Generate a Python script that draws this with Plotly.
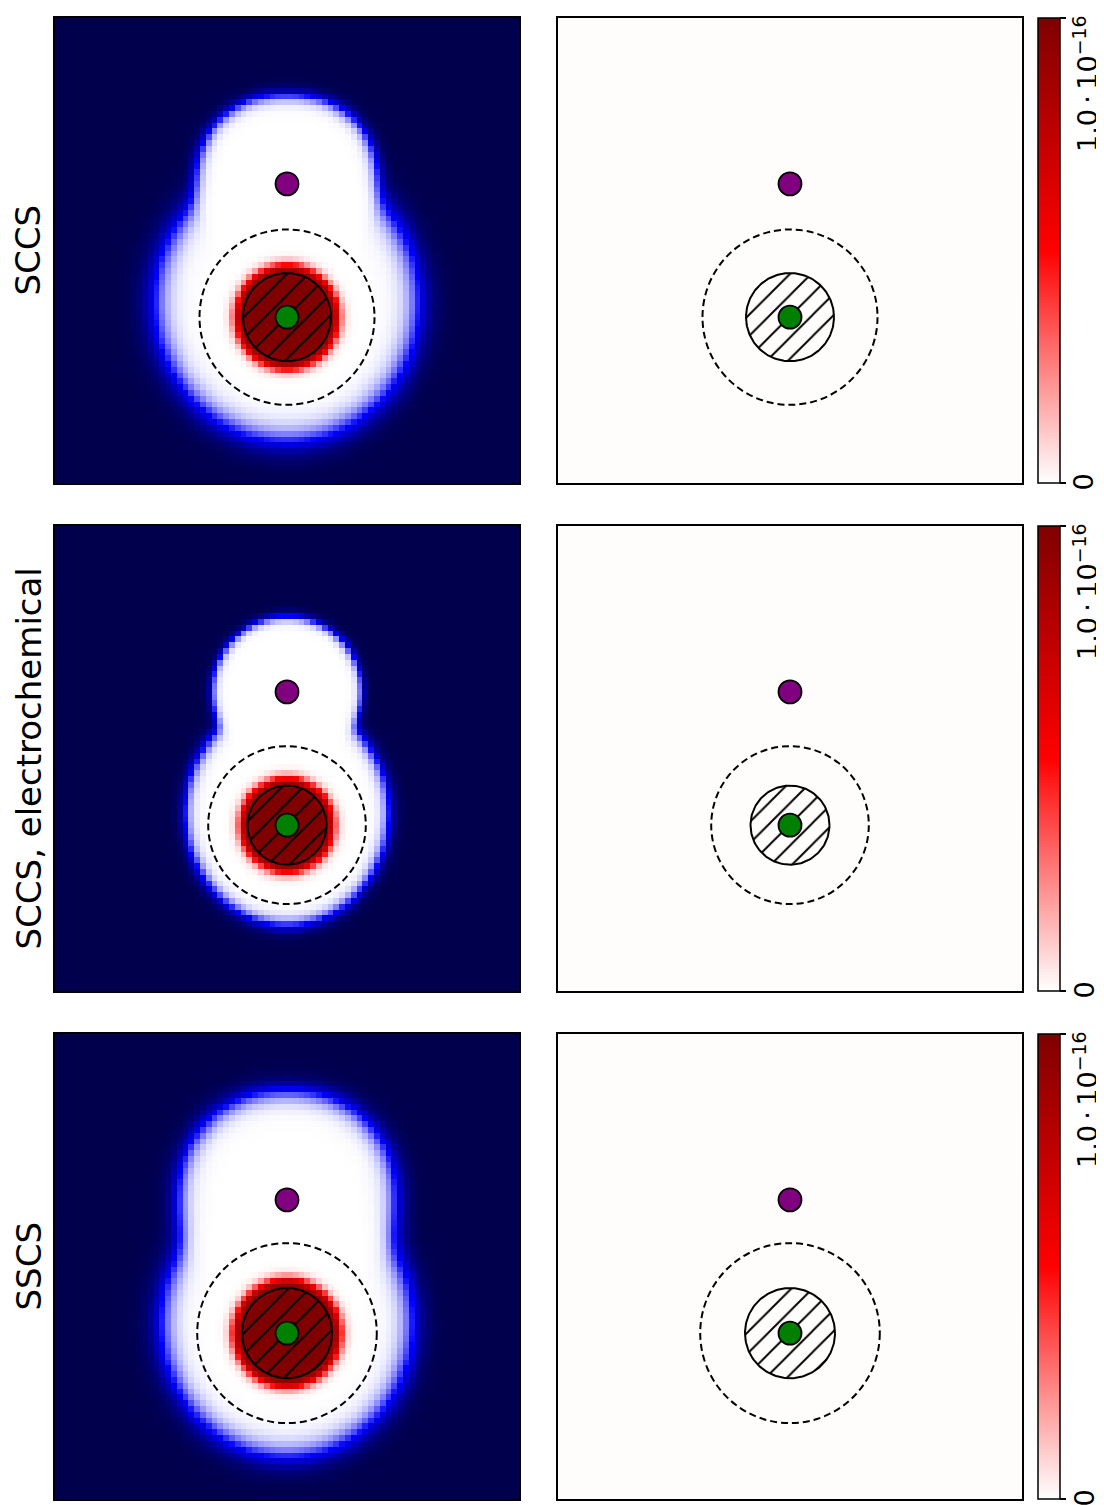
import numpy as np
import plotly.graph_objects as go

# ---------------- data ----------------
ROW_LABELS = ["SCCS", "SCCS, electrochemical", "SSCS"]
BOX = 10.0            # side of each map (Å)
NGRID = 80            # cells per side
GREEN_XY = (5.0, 3.567)
PURPLE_XY = (5.0, 6.433)

HATCH_R = [0.948, 0.851, 0.970]      # hatched (core) sphere radius
DASH_R = [1.886, 1.698, 1.935]       # dashed sphere radius
RED_R = [1.12, 1.013, 1.164]         # radius of red region (left maps)
RED_W = [0.06, 0.06, 0.06]
LOW_OFF = [0.323, 0.259, 0.216]      # lower lobe centre shift above green atom
LOW_RX = [2.86, 2.20, 2.72]
LOW_RY = [3.02, 2.43, 2.90]
LOW_P = [2.0, 2.0, 2.0]
LOW_W = [0.17, 0.085, 0.16]
UP_RX = [1.96, 1.62, 2.36]
UP_RY = [1.92, 1.63, 2.36]
UP_P = [2.25, 2.0, 2.15]
UP_W = [0.08, 0.055, 0.13]

RIGHT_LEVEL = [0.5e-18, 0.5e-18, 0.5e-18]   # right maps: nearly zero everywhere
CB_MAX = 1.0e-16
CB_TICKS = [0.0, 1.0e-16]
CB_TICKTEXT = ["0", "1.0\u2009·\u200910<sup>−16</sup>"]

SEISMIC = [[0.0, "rgb(0,0,76)"], [0.25, "rgb(0,0,255)"], [0.5, "rgb(255,255,255)"],
           [0.75, "rgb(255,0,0)"], [1.0, "rgb(128,0,0)"]]
REDS = [[0.0, "rgb(255,255,255)"], [0.5, "rgb(255,0,0)"], [1.0, "rgb(128,0,0)"]]

# ---------------- layout geometry (reference page pixels) ----------------
PAGE_W, PAGE_H = 1104, 1505
OFF = 8                                   # browser body margin
PLOT_L, PLOT_R, PLOT_T, PLOT_B = 55, 1022, 18, 1499
W, H = PAGE_W - OFF, PAGE_H - OFF
ML, MT = PLOT_L - OFF, PLOT_T - OFF
MR, MB = W - (PLOT_R - OFF), H - (PLOT_B - OFF)
PW, PH = PLOT_R - PLOT_L, PLOT_B - PLOT_T
XDOM = [[0, 464 / PW], [503 / PW, 1.0]]
YDOM = [[1016 / PH, 1.0], [508 / PH, 973 / PH], [0.0, 465 / PH]]


def px_x(xpix):
    return (xpix - PLOT_L) / PW


def sig(x):
    return 1.0 / (1.0 + np.exp(-x))


xs = (np.arange(NGRID) + 0.5) * BOX / NGRID
X, Y = np.meshgrid(xs, xs)


def left_field(i):
    gx, gy = GREEN_XY
    px, py = PURPLE_XY
    dx = np.abs(X - gx) / LOW_RX[i]
    dy = np.abs(Y - (gy + LOW_OFF[i])) / LOW_RY[i]
    rho = (dx ** LOW_P[i] + dy ** LOW_P[i]) ** (1 / LOW_P[i])
    a = (rho - 1) * 0.5 * (LOW_RX[i] + LOW_RY[i])
    s1 = sig(-a / LOW_W[i])
    ux = np.abs(X - px) / UP_RX[i]
    uy = np.abs(Y - py) / UP_RY[i]
    rho2 = (ux ** UP_P[i] + uy ** UP_P[i]) ** (1 / UP_P[i])
    b = (rho2 - 1) * 0.5 * (UP_RX[i] + UP_RY[i])
    s2 = sig(-b / UP_W[i])
    cav = 1 - (1 - s1) * (1 - s2)
    red = sig((RED_R[i] - np.hypot(X - gx, Y - gy)) / RED_W[i])
    return 0.5 * cav + 0.5 * red


def ax_name(n, letter):
    return letter if n == 1 else f"{letter}{n}"


fig = go.Figure()
shapes, annotations = [], []
layout_axes = {}
theta = np.linspace(0, 2 * np.pi, 181)

for i in range(3):
    for j in range(2):
        n = 2 * i + j + 1
        xa, ya = ax_name(n, "x"), ax_name(n, "y")
        if j == 0:
            fig.add_trace(go.Heatmap(x=xs, y=xs, z=left_field(i), colorscale=SEISMIC,
                                     zmin=0, zmax=1, showscale=False, hoverinfo="skip",
                                     xaxis=xa, yaxis=ya))
        else:
            z = np.full((NGRID, NGRID), RIGHT_LEVEL[i])
            fig.add_trace(go.Heatmap(
                x=xs, y=xs, z=z, colorscale=REDS, zmin=0, zmax=CB_MAX, hoverinfo="skip",
                xaxis=xa, yaxis=ya,
                colorbar=dict(x=px_x(1038), xanchor="left", xpad=0,
                              y=sum(YDOM[i]) / 2, yanchor="middle", ypad=0,
                              len=YDOM[i][1] - YDOM[i][0], lenmode="fraction",
                              thickness=22, thicknessmode="pixels",
                              outlinewidth=1.5, outlinecolor="black",
                              tickvals=CB_TICKS, ticks="outside", ticklen=6,
                              tickwidth=1.5, tickcolor="black", showticklabels=False)))
            for tv, tt in zip(CB_TICKS, CB_TICKTEXT):
                frac = tv / CB_MAX
                annotations.append(dict(
                    text=tt, textangle=-90, xref="paper", yref=f"{ya} domain",
                    x=px_x(1067), xanchor="left",
                    y=frac, yanchor="top" if frac > 0.5 else "middle",
                    yshift=4 if frac > 0.5 else 1, showarrow=False, borderpad=0,
                    font=dict(family="DejaVu Sans", size=27, color="black")))
        gx, gy = GREEN_XY
        R = HATCH_R[i]
        fig.add_trace(go.Scatter(
            x=gx + R * np.cos(theta), y=gy + R * np.sin(theta), mode="lines",
            fill="toself", fillcolor="rgba(0,0,0,0)",
            fillpattern=dict(shape="/", fgcolor="black", bgcolor="rgba(0,0,0,0)",
                             fgopacity=1, size=15, solidity=0.13),
            line=dict(color="black", width=2), hoverinfo="skip", showlegend=False,
            xaxis=xa, yaxis=ya))
        fig.add_trace(go.Scatter(
            x=[PURPLE_XY[0], GREEN_XY[0]], y=[PURPLE_XY[1], GREEN_XY[1]], mode="markers",
            marker=dict(size=23, color=["#800080", "#008000"],
                        line=dict(color="black", width=1.8)),
            hoverinfo="skip", showlegend=False, xaxis=xa, yaxis=ya))
        Rd = DASH_R[i]
        shapes.append(dict(type="circle", xref=xa, yref=ya, x0=gx - Rd, x1=gx + Rd,
                           y0=gy - Rd, y1=gy + Rd,
                           line=dict(color="black", width=2, dash="7px,4px")))
        axcommon = dict(range=[0, BOX], showgrid=False, zeroline=False, showticklabels=False,
                        ticks="", showline=True, mirror=True, linecolor="black", linewidth=1.5)
        layout_axes["xaxis" if n == 1 else f"xaxis{n}"] = dict(axcommon, domain=XDOM[j], anchor=ya)
        layout_axes["yaxis" if n == 1 else f"yaxis{n}"] = dict(axcommon, domain=YDOM[i], anchor=xa)
    annotations.append(dict(
        text=ROW_LABELS[i], textangle=-90, xref="paper", yref="paper",
        x=px_x(28), xanchor="center", y=sum(YDOM[i]) / 2, yanchor="middle",
        showarrow=False, font=dict(family="DejaVu Sans", size=34, color="black")))

fig.update_layout(width=W, height=H, margin=dict(l=ML, r=MR, t=MT, b=MB),
                  paper_bgcolor="white", plot_bgcolor="white", showlegend=False,
                  shapes=shapes, annotations=annotations, **layout_axes)
fig.write_html("out.html")
